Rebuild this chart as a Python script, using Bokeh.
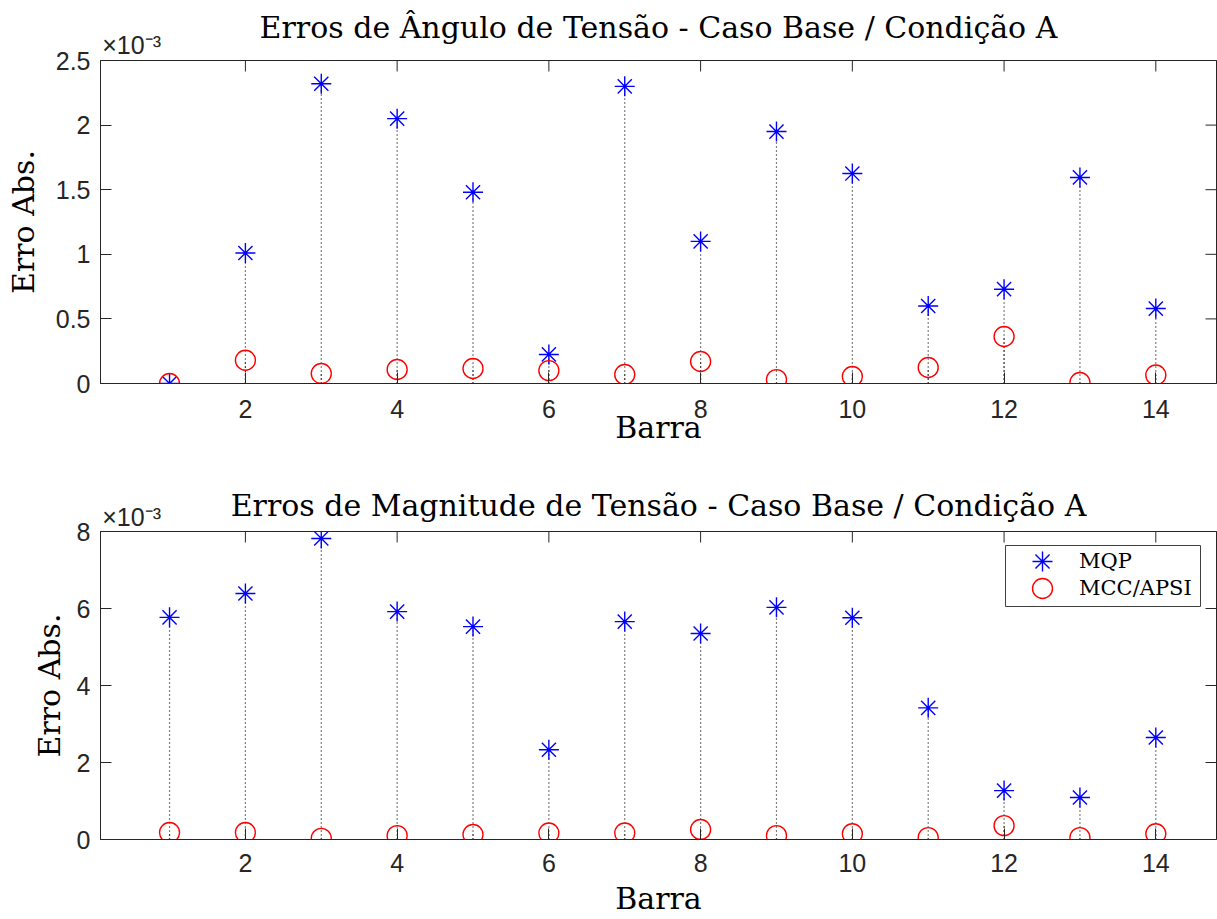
from bokeh.plotting import figure
from bokeh.layouts import column
from bokeh.models import (Range1d, LinearAxis, FixedTicker, NumeralTickFormatter,
                          CustomJSTickFormatter, Legend, LegendItem, BoxAnnotation)
from bokeh.embed import file_html
from bokeh.resources import INLINE

# Bus numbers and absolute errors (values in units of 10^-3)
barras = list(range(1, 15))
ang_mqp = [0.0, 1.01, 2.32, 2.05, 1.48, 0.225, 2.30, 1.10, 1.95, 1.625, 0.60, 0.73, 1.595, 0.58]
ang_mcc = [0.0, 0.18, 0.077, 0.108, 0.116, 0.10, 0.07, 0.17, 0.03, 0.054, 0.124, 0.364, 0.008, 0.066]
mag_mqp = [5.77, 6.39, 7.82, 5.92, 5.53, 2.33, 5.66, 5.35, 6.03, 5.76, 3.42, 1.27, 1.09, 2.65]
mag_mcc = [0.18, 0.18, 0.03, 0.10, 0.13, 0.17, 0.17, 0.26, 0.10, 0.15, 0.05, 0.36, 0.05, 0.15]

x_ticks = [2, 4, 6, 8, 10, 12, 14]
ang_ticks = [0, 0.5, 1, 1.5, 2, 2.5]
mag_ticks = [0, 2, 4, 6, 8]

titulo_ang = "Erros de Ângulo de Tensão - Caso Base / Condição A"
titulo_mag = "Erros de Magnitude de Tensão - Caso Base / Condição A"
rotulo_x = "Barra"
rotulo_y = "Erro Abs."
expoente = "×10⁻³"
serie_mqp = "MQP"
serie_mcc = "MCC/APSI"

X_START, X_END = 0.09, 14.8
EXP_X = 0.50          # centre of the exponent text along the top edge

FIG_W = 1217
BORDER_L, BORDER_R = 100, 1
FRAME_W = FIG_W - BORDER_L - BORDER_R

AXIS = "#262626"
SERIF = "DejaVu Serif"
SANS = "Liberation Sans"
TICK_FONT = "25px"


def style_axis(ax, ticks):
    ax.ticker = FixedTicker(ticks=ticks)
    ax.axis_line_color = AXIS
    ax.axis_line_width = 1
    ax.major_tick_line_color = AXIS
    ax.major_tick_in = 11
    ax.major_tick_out = 0
    ax.minor_tick_line_color = None
    ax.major_label_text_font = SANS
    ax.major_label_text_font_size = TICK_FONT
    ax.major_label_text_color = AXIS


def label_style(ax, text, standoff):
    ax.axis_label = text
    ax.axis_label_text_font = SERIF
    ax.axis_label_text_font_size = "30px"
    ax.axis_label_text_font_style = "normal"
    ax.axis_label_text_color = "black"
    ax.axis_label_standoff = standoff


def panel(title, mqp, mcc, y_top, y_ticks, y_fmt, height, b_top, b_bottom,
          exp_std, title_std, xl_std, yl_std, x_std):
    p = figure(width=FIG_W, height=height,
               x_range=Range1d(X_START, X_END), y_range=Range1d(0, y_top),
               output_backend="svg", toolbar_location=None,
               min_border_left=BORDER_L, min_border_right=BORDER_R,
               min_border_top=b_top, min_border_bottom=b_bottom,
               background_fill_color="white", border_fill_color="white",
               outline_line_color=AXIS, outline_line_width=1)
    p.xgrid.visible = False
    p.ygrid.visible = False

    xa = p.below[0]
    ya = p.left[0]
    style_axis(xa, x_ticks)
    style_axis(ya, y_ticks)
    ya.formatter = NumeralTickFormatter(format=y_fmt)
    xa.major_label_standoff = x_std
    ya.major_label_standoff = 10
    label_style(xa, rotulo_x, xl_std)
    label_style(ya, rotulo_y, yl_std)

    # top edge: exponent of the y values and the panel title
    top_ax = LinearAxis(ticker=FixedTicker(ticks=[EXP_X]),
                        formatter=CustomJSTickFormatter(code=f"return '{expoente}'"))
    top_ax.axis_line_color = AXIS
    top_ax.major_tick_in = 0
    top_ax.major_tick_out = 0
    top_ax.minor_tick_line_color = None
    top_ax.major_label_text_font = SANS
    top_ax.major_label_text_font_size = TICK_FONT
    top_ax.major_label_text_color = AXIS
    top_ax.major_label_text_align = "center"
    top_ax.major_label_standoff = exp_std
    label_style(top_ax, title, title_std)
    p.add_layout(top_ax, "above")

    # inward ticks on the top and right edges of the box
    p.ray(x=x_ticks, y=[y_top] * len(x_ticks), length=11, length_units="screen",
          angle=-90, angle_units="deg", line_color=AXIS, line_width=1)
    p.ray(x=[X_END] * len(y_ticks), y=y_ticks, length=11, length_units="screen",
          angle=180, angle_units="deg", line_color=AXIS, line_width=1)

    # dotted stems from zero up to each value
    p.segment(x0=barras, y0=[0] * len(barras), x1=barras, y1=mqp,
              line_color="black", line_width=1.2, line_dash="1 3")
    p.segment(x0=barras, y0=[0] * len(barras), x1=barras, y1=mcc,
              line_color="black", line_width=1.2, line_dash="1 3")

    r_mqp = p.scatter(barras, mqp, marker="asterisk", size=20,
                      line_color="blue", line_width=1.4)
    r_mcc = p.scatter(barras, mcc, marker="circle", size=20,
                      fill_color=None, line_color="red", line_width=1.4)
    return p, r_mqp, r_mcc


p1, _, _ = panel(titulo_ang, ang_mqp, ang_mcc, 2.5, ang_ticks, "0.[0]",
                 460, 60, 77, 2, -17, -11, 12, 16)
MAG_H, MAG_TOP, MAG_BOTTOM = 459, 71, 80
p2, r_mqp, r_mcc = panel(titulo_mag, mag_mqp, mag_mcc, 8, mag_ticks, "0",
                         MAG_H, MAG_TOP, MAG_BOTTOM, 1, -23, 6, 7, 14)

# legend: frame in pixels from the plot area's lower-left corner
LEG_X, LEG_Y, LEG_W, LEG_H = 905, 233, 195, 61
ROW_H = 50            # tall item rows so the legend markers match the plotted ones
ROW_CENTRES = [45, 18]  # row centres, pixels above the legend frame's bottom
frame_h = MAG_H - MAG_TOP - MAG_BOTTOM
sx = (X_END - X_START) / FRAME_W
sy = 8 / frame_h
p2.add_layout(BoxAnnotation(left=X_START + LEG_X * sx, right=X_START + (LEG_X + LEG_W) * sx,
                            bottom=LEG_Y * sy, top=(LEG_Y + LEG_H) * sy,
                            fill_color="white", fill_alpha=1,
                            line_color="#404040", line_width=1, line_alpha=1))

for name, rend, cy in ((serie_mqp, r_mqp, ROW_CENTRES[0]), (serie_mcc, r_mcc, ROW_CENTRES[1])):
    leg = Legend(items=[LegendItem(label=name, renderers=[rend])],
                 location=(LEG_X, LEG_Y + cy - ROW_H // 2), orientation="vertical",
                 margin=0, padding=0, spacing=0,
                 glyph_width=74, glyph_height=ROW_H, label_standoff=0,
                 label_width=LEG_W - 74, label_height=20,
                 label_text_font=SERIF, label_text_font_size="21px",
                 label_text_color="black",
                 border_line_color=None, background_fill_alpha=0)
    p2.add_layout(leg)

layout = column(p1, p2, spacing=0)
open("out.html", "w").write(file_html(layout, INLINE))
